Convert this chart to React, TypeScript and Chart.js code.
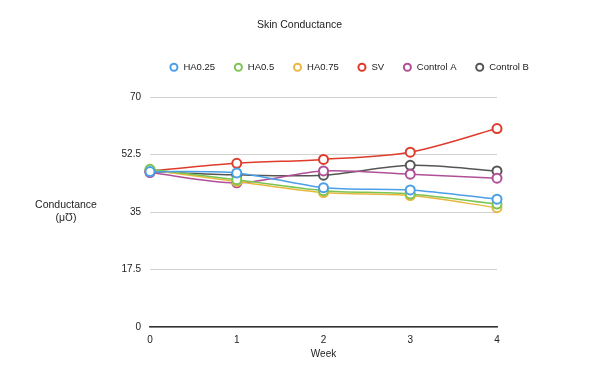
import React, { useEffect, useRef } from "react";
import { Chart, registerables } from "chart.js";

Chart.register(...registerables);

const weeks = ["0", "1", "2", "3", "4"];
const seriesNames = ["HA0.25", "HA0.5", "HA0.75", "SV", "Control A", "Control B"];
const ha025 = [47.3, 46.9, 42.4, 41.7, 38.9];
const ha05 = [48.0, 44.8, 41.5, 40.5, 37.4];
const ha075 = [47.8, 44.3, 40.9, 40.0, 36.3];
const sv = [47.5, 49.8, 51.0, 53.2, 60.4];
const controlA = [47.0, 43.9, 47.5, 46.5, 45.3];
const controlB = [47.3, 46.3, 46.2, 49.2, 47.5];
const seriesColors = ["#4a9fe6", "#7cc552", "#e8b73e", "#df3b2b", "#b04f98", "#555555"];
const yTicks = [0, 17.5, 35, 52.5, 70];
const chartTitle = "Skin Conductance";
const yTitleLines = ["Conductance", "(μƱ)"];
const xTitle = "Week";

const FONT = "'Liberation Sans', Arial, Helvetica, sans-serif";

export default function App() {
  const ref = useRef<HTMLCanvasElement | null>(null);

  useEffect(() => {
    if (!ref.current) return;
    const values = [ha025, ha05, ha075, sv, controlA, controlB];
    const datasets = seriesNames.map((name, i) => ({
      label: name,
      data: values[i],
      borderColor: seriesColors[i],
      backgroundColor: "#ffffff",
      pointBackgroundColor: "#ffffff",
      pointBorderColor: seriesColors[i],
      pointBorderWidth: 2,
      pointRadius: 4.5,
      borderWidth: 1.5,
      tension: 0.3,
      yAxisID: "y",
    }));

    const textPlugin = {
      id: "textPlugin",
      beforeInit(chart: any) {
        const lg = chart.legend;
        if (lg) {
          const orig = lg.fit;
          lg.fit = function () {
            orig.call(this);
            this.height += 15;
          };
        }
      },
      afterDraw(chart: any) {
        const ctx = chart.ctx;
        const area = chart.chartArea;
        ctx.save();
        ctx.fillStyle = "#222";
        ctx.textAlign = "center";
        ctx.textBaseline = "middle";
        ctx.font = `10.5px ${FONT}`;
        ctx.fillText(chartTitle, chart.width / 2, 17);
        const mid = (area.top + area.bottom) / 2;
        const cx = area.left - 84;
        ctx.fillText(yTitleLines[0], cx, mid - 6.5);
        ctx.fillText(yTitleLines[1], cx, mid + 6.5);
        ctx.restore();
      },
    };

    const chart = new Chart(ref.current, {
      type: "line",
      data: { labels: weeks, datasets },
      options: {
        animation: false,
        responsive: false,
        maintainAspectRatio: false,
        layout: { padding: { left: 99, right: 0, top: 36, bottom: 15 } },
        plugins: {
          title: { display: false },
          tooltip: { enabled: false },
          legend: {
            position: "top",
            labels: {
              usePointStyle: true,
              pointStyle: "circle",
              boxWidth: 10,
              boxHeight: 5,
              padding: 18.5,
              color: "#222",
              font: { family: FONT, size: 9.5 },
            },
          },
        },
        scales: {
          x: {
            type: "category",
            offset: false,
            grid: { display: false, drawTicks: false },
            border: { display: true, color: "#333", width: 1.5 },
            ticks: { color: "#222", padding: 7, font: { family: FONT, size: 10 }, maxRotation: 0 },
            title: {
              display: true,
              text: xTitle,
              color: "#222",
              font: { family: FONT, size: 10 },
              padding: { top: -5, bottom: 0 },
            },
          },
          y: {
            type: "linear",
            position: "left",
            min: 0,
            max: 70,
            afterFit(scale: any) {
              scale.width = 43;
            },
            afterBuildTicks(scale: any) {
              scale.ticks = yTicks.map((v) => ({ value: v }));
            },
            grid: { color: "#d2d2d2", lineWidth: 1, drawTicks: false },
            border: { display: false },
            ticks: { color: "#222", padding: 9, font: { family: FONT, size: 10 } },
          },
          yR: {
            type: "linear",
            position: "right",
            display: true,
            afterFit(scale: any) {
              scale.width = 94;
            },
            grid: { display: false, drawTicks: false },
            border: { display: false },
            ticks: { display: false },
          },
        },
      },
      plugins: [textPlugin],
    } as any);
    return () => chart.destroy();
  }, []);

  return (
    <div style={{ width: 583, height: 367 }}>
      <canvas ref={ref} width={583} height={367} style={{ display: "block" }} />
    </div>
  );
}
